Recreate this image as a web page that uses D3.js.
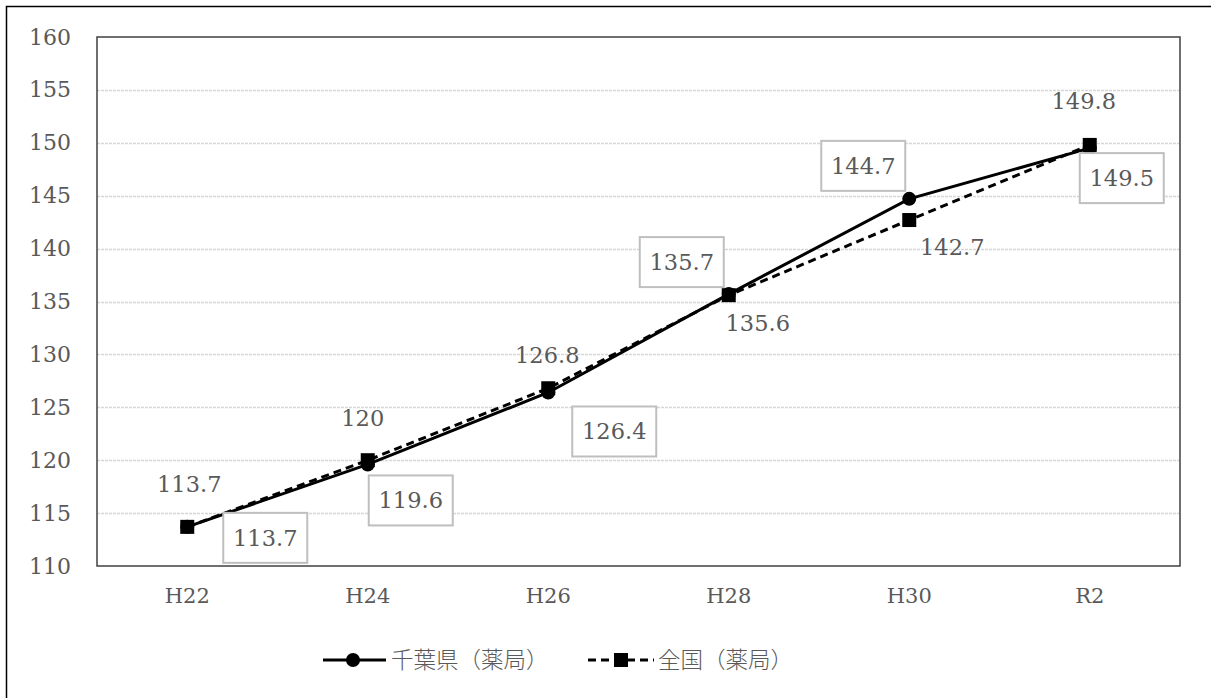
<!DOCTYPE html>
<html><head><meta charset="utf-8">
<script src="https://cdn.jsdelivr.net/npm/d3@7"></script>
<style>
html,body{margin:0;padding:0;background:#fff;}
svg text{font-family:"DejaVu Serif","Noto Sans CJK JP",serif;fill:#595959;}
</style></head><body>
<svg id="c" width="1211" height="698"></svg>
<script>
const categories = ["H22","H24","H26","H28","H30","R2"];
const chibaValues = [113.7,119.6,126.4,135.7,144.7,149.5];
const nationalValues = [113.7,120,126.8,135.6,142.7,149.8];
const yTicks = [110,115,120,125,130,135,140,145,150,155,160];
const seriesNames = ["千葉県（薬局）","全国（薬局）"];
// label offsets (dx, dy) relative to point, in px
const chibaLabelOff = [[78,11],[43,36],[66,39],[-47,-32],[-46,-33],[32,30]];
const nationalLabelOff = [[2,-43],[-5,-42],[-1,-33],[29,28],[43,27],[-6,-44]];

const svg = d3.select("#c");
const L=97, T=37, R=1180, B=566;
const x = d3.scaleBand().domain(categories).range([L,R]);
const y = d3.scaleLinear().domain([110,160]).range([B,T]);

// outer frame
svg.append("path").attr("d","M6.5,700 V6.5 H1215").attr("fill","none").attr("stroke","#000").attr("stroke-width",1.5);

// gridlines
svg.append("g").selectAll("line").data(yTicks.slice(1,-1)).join("line")
  .attr("x1",L).attr("x2",R).attr("y1",d=>Math.round(y(d))+0.5).attr("y2",d=>Math.round(y(d))+0.5)
  .attr("stroke","#d6d6d6").attr("stroke-width",1.5).attr("stroke-dasharray","3,1");

// plot border
svg.append("rect").attr("x",L).attr("y",T).attr("width",R-L).attr("height",B-T)
  .attr("fill","none").attr("stroke","#404040").attr("stroke-width",1.5);

// y axis labels
const yAxis = d3.axisLeft(y).tickValues(yTicks).tickSize(0).tickPadding(26);
const gy = svg.append("g").attr("transform",`translate(${L},0)`).call(yAxis);
gy.select(".domain").remove();
gy.selectAll("text").attr("font-size",22).attr("font-family","DejaVu Serif").attr("fill","#595959");

// x axis labels
const xAxis = d3.axisBottom(x).tickSize(0).tickPadding(22);
const gx = svg.append("g").attr("transform",`translate(0,${B})`).call(xAxis);
gx.select(".domain").remove();
gx.selectAll("text").attr("font-size",21).attr("font-family","DejaVu Serif").attr("fill","#595959");

const cx = d=>x(d)+x.bandwidth()/2;
const line = d3.line().x(d=>cx(d.c)).y(d=>y(d.v));
const chiba = categories.map((c,i)=>({c,v:chibaValues[i]}));
const nat = categories.map((c,i)=>({c,v:nationalValues[i]}));

svg.append("path").datum(chiba).attr("d",line).attr("fill","none").attr("stroke","#000").attr("stroke-width",3);
svg.append("path").datum(nat).attr("d",line).attr("fill","none").attr("stroke","#000").attr("stroke-width",3).attr("stroke-dasharray","8,5");

svg.append("g").selectAll("circle").data(chiba).join("circle")
  .attr("cx",d=>cx(d.c)).attr("cy",d=>y(d.v)).attr("r",7).attr("fill","#000");
svg.append("g").selectAll("rect").data(nat).join("rect")
  .attr("x",d=>cx(d.c)-7).attr("y",d=>y(d.v)-7).attr("width",14).attr("height",14).attr("fill","#000");

// national labels (plain)
svg.append("g").selectAll("text").data(nat).join("text")
  .attr("x",(d,i)=>cx(d.c)+nationalLabelOff[i][0]).attr("y",(d,i)=>y(d.v)+nationalLabelOff[i][1])
  .attr("text-anchor","middle").attr("dominant-baseline","central").attr("font-size",22.5)
  .text(d=>d.v);

// chiba labels (boxed)
const cl = svg.append("g").selectAll("g").data(chiba).join("g")
  .attr("transform",(d,i)=>`translate(${cx(d.c)+chibaLabelOff[i][0]},${y(d.v)+chibaLabelOff[i][1]})`);
cl.append("rect").attr("x",-42).attr("y",-25).attr("width",84).attr("height",50)
  .attr("fill","#fff").attr("stroke","#bfbfbf").attr("stroke-width",2);
cl.append("text").attr("text-anchor","middle").attr("dominant-baseline","central").attr("font-size",22.5)
  .text(d=>d.v);

// legend
const lg = svg.append("g").attr("transform","translate(0,660)");
lg.append("line").attr("x1",323).attr("x2",386).attr("y1",0).attr("y2",0).attr("stroke","#000").attr("stroke-width",3);
lg.append("circle").attr("cx",353).attr("cy",0).attr("r",7).attr("fill","#000");
lg.append("text").attr("x",391).attr("y",0).attr("dominant-baseline","central").attr("font-size",22.5)
  .attr("font-family","Noto Sans CJK JP").attr("font-weight",300).text(seriesNames[0]);
lg.append("line").attr("x1",588).attr("x2",654).attr("y1",0).attr("y2",0).attr("stroke","#000").attr("stroke-width",3).attr("stroke-dasharray","8,5");
lg.append("rect").attr("x",614).attr("y",-7).attr("width",14).attr("height",14).attr("fill","#000");
lg.append("text").attr("x",658).attr("y",0).attr("dominant-baseline","central").attr("font-size",22.5)
  .attr("font-family","Noto Sans CJK JP").attr("font-weight",300).text(seriesNames[1]);
</script>
</body></html>
